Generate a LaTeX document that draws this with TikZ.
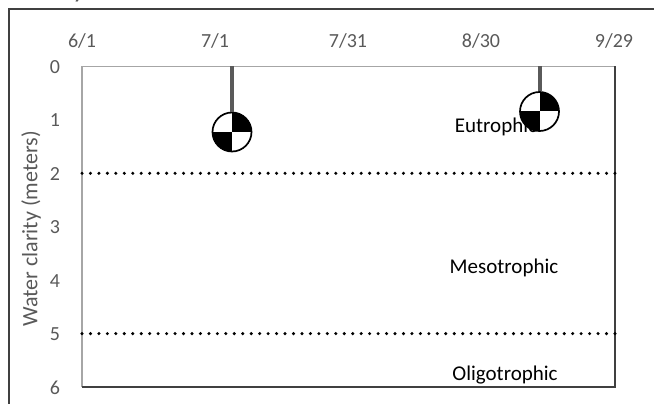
\documentclass[tikz,border=0pt]{standalone}
\usepackage{fontspec}
\setmainfont{Carlito}
\definecolor{axgray}{HTML}{595959}
\definecolor{stemgray}{HTML}{5A5A5A}
\definecolor{lightax}{HTML}{A6A6A6}
\definecolor{darkframe}{HTML}{404040}
\begin{document}
\begin{tikzpicture}[x=1pt,y=-1pt,
  tick/.style={text=axgray, font=\fontsize{20}{24}\selectfont, inner sep=0pt, anchor=base},
  zone/.style={font=\fontsize{21}{25}\selectfont, inner sep=0pt},
  disk/.style={circle, draw=black, line width=1.7pt, fill=white, minimum size=39pt, inner sep=0pt,
    path picture={\fill[black] (path picture bounding box.center) rectangle (path picture bounding box.north east);
                  \fill[black] (path picture bounding box.center) rectangle (path picture bounding box.south west);}},
  stem/.style={draw=stemgray, line width=4pt},
  limitline/.style={draw=black, line width=3.4pt, dash pattern=on 0pt off 8.46pt, line cap=round},
  axline/.style={draw=lightax, line width=1.3pt},
  darkline/.style={draw=darkframe, line width=1.3pt},
  outer/.style={draw=darkframe, line width=1.3pt},
  ]
\useasboundingbox (0,0) rectangle (654,404);
\clip (0,0) rectangle (654,404);
% cut-off title fragment
\node[font=\fontsize{28}{32}\selectfont, text=axgray, inner sep=0pt, anchor=base] (title) at (79,-2) {y};
% outer chart frame
\coordinate (ob) at (9,410);
\coordinate (otl) at (9,9);
\coordinate (otr) at (660,9);
\draw[outer] (ob) -- (otl) -- (otr);
% plot area
\coordinate (ptl) at (82,66.5);
\coordinate (ptr) at (615,66.5);
\coordinate (pbl) at (82,387);
\coordinate (pbr) at (615,387);
\draw[axline] (pbl) -- (ptl) -- (ptr);
\draw[darkline] (ptr) -- (pbr) -- (pbl);
% x tick labels
\node[tick] (x1) at (82,48) {6/1};
\node[tick] (x2) at (215,48) {7/1};
\node[tick] (x3) at (348,48) {7/31};
\node[tick] (x4) at (481,48) {8/30};
\node[tick] (x5) at (614,48) {9/29};
% y tick labels
\foreach \v in {0,...,6}{
  \node[tick] (y\v) at (55,{66.5+53.42*\v+7}) {\v};
}
% y axis title
\node[text=axgray, font=\fontsize{22}{26}\selectfont, inner sep=0pt, rotate=90] (ytitle) at (31,229) {Water clarity (meters)};
% trophic limits
\coordinate (l2a) at (82,173.3);
\coordinate (l2b) at (615,173.3);
\coordinate (l5a) at (82,333.6);
\coordinate (l5b) at (615,333.6);
\draw[limitline] (l2a) -- (l2b);
\draw[limitline] (l5a) -- (l5b);
% zone labels
\node[zone] (eu) at (496,127) {Eutrophic};
\node[zone] (meso) at (504,268) {Mesotrophic};
\node[zone] (oligo) at (505,375) {Oligotrophic};
% secchi readings
\coordinate (t1) at (232,66.5);
\coordinate (t2) at (539.5,66.5);
\node[disk] (d1) at (232,132) {};
\node[disk] (d2) at (539.5,111.5) {};
\draw[stem] (t1) -- (d1.north);
\draw[stem] (t2) -- (d2.north);
\end{tikzpicture}
\end{document}
